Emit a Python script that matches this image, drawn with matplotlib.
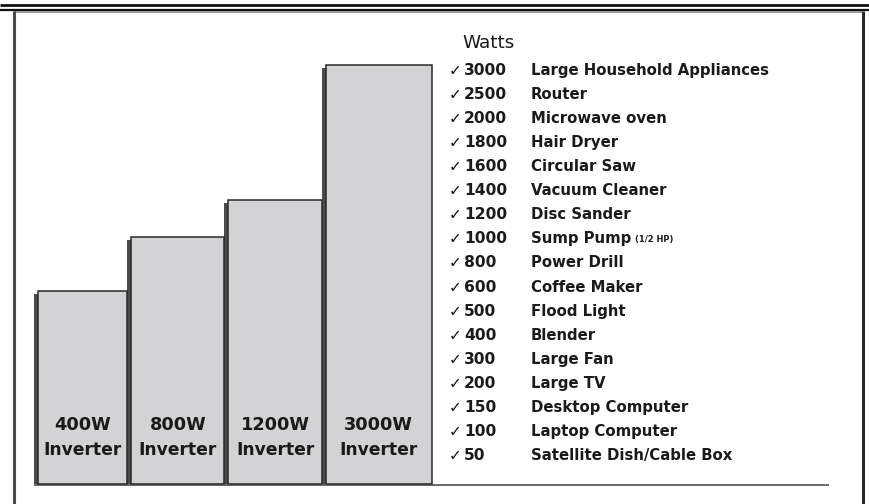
import matplotlib
matplotlib.use("Agg")
import matplotlib.pyplot as plt

# ---------------- data ----------------
inverters = ["400W", "800W", "1200W", "3000W"]
bar_heights = [193, 247, 284, 419]          # relative bar heights
watts = [3000, 2500, 2000, 1800, 1600, 1400, 1200, 1000, 800, 600, 500, 400, 300, 200, 150, 100, 50]
appliances = ["Large Household Appliances", "Router", "Microwave oven", "Hair Dryer",
              "Circular Saw", "Vacuum Cleaner", "Disc Sander", "Sump Pump", "Power Drill",
              "Coffee Maker", "Flood Light", "Blender", "Large Fan", "Large TV",
              "Desktop Computer", "Laptop Computer", "Satellite Dish/Cable Box"]
notes = ["", "", "", "", "", "", "", "(1/2 HP)", "", "", "", "", "", "", "", "", ""]
header = "Watts"

# ---------------- layout ----------------
W, H = 870, 504
FONT = "DejaVu Sans"
TXT = "#1a1a1a"
fig = plt.figure(figsize=(W / 100, H / 100), dpi=100)
fig.patch.set_facecolor("white")

# overlay axes in pixel coordinates
ov = fig.add_axes([0, 0, 1, 1])
ov.set_xlim(0, W)
ov.set_ylim(H, 0)
ov.axis("off")

# frame lines
ov.plot([0, W], [5, 5], color="#111111", lw=2.0, solid_capstyle="butt")
ov.plot([0, W], [9.8, 9.8], color="#111111", lw=1.6, solid_capstyle="butt")
ov.plot([14, 863], [11.5, 11.5], color="#8a8a8a", lw=1.2, solid_capstyle="butt")
ov.plot([13.8, 13.8], [10.5, H], color="#4a4a4a", lw=2.2, solid_capstyle="butt")
ov.plot([863, 863], [10.5, H], color="#2a2a2a", lw=2.2, solid_capstyle="butt")
ov.plot([34, 829], [484.8, 484.8], color="#6a6a6a", lw=1.4, solid_capstyle="butt")

# bars axes: 1 data unit = 1 pixel
x0, x1 = 34, 432
base_y = 484
top_units = 420
bx = fig.add_axes([x0 / W, (H - base_y) / H, (x1 - x0) / W, top_units / H])
bx.set_xlim(x0, x1)
bx.set_ylim(0, top_units)
bx.axis("off")

edges = [34, 127.5, 224.5, 322, 432]
shadow_w = 3.6
for i, (name, h) in enumerate(zip(inverters, bar_heights)):
    left = edges[i]
    right = edges[i + 1]
    # shadow strip
    bx.bar(left, h - 3, width=shadow_w + 1, align="edge", color="#4b4b4b",
           edgecolor="none", zorder=1, clip_on=False)
    # main bar
    bx.bar(left + shadow_w, h, width=right - left - shadow_w, align="edge",
           color="#d3d3d5", edgecolor="#2a2a2a", linewidth=1.1, zorder=2, clip_on=False)
    cx = left + shadow_w + (right - left - shadow_w) / 2
    bx.text(cx, 484 - 425, name, ha="center", va="center", fontsize=12.8,
            fontweight="bold", color=TXT, family=FONT, zorder=3)
    bx.text(cx, 484 - 450, "Inverter", ha="center", va="center", fontsize=12.3,
            fontweight="bold", color=TXT, family=FONT, zorder=3)

# list of appliances
ov.text(462, 43, header, ha="left", va="center", fontsize=13.2, color=TXT, family=FONT)
row0, step = 70.5, 24.06
for i, (w, a, n) in enumerate(zip(watts, appliances, notes)):
    y = row0 + i * step
    ov.text(449, y, "\u2713", ha="left", va="center", fontsize=11, fontweight="bold",
            color="#111111", family=FONT)
    ov.text(464, y, str(w), ha="left", va="center", fontsize=11.2, fontweight="bold",
            color=TXT, family=FONT)
    t = ov.text(531, y, a, ha="left", va="center", fontsize=10.7, fontweight="bold",
                color=TXT, family=FONT)
    if n:
        fig.canvas.draw()
        bb = t.get_window_extent()
        xe = bb.x1
        ov.text(xe + 4, y + 1, n, ha="left", va="center", fontsize=6, fontweight="bold",
                color=TXT, family=FONT)

fig.savefig("out.png", dpi=100, facecolor="white")
